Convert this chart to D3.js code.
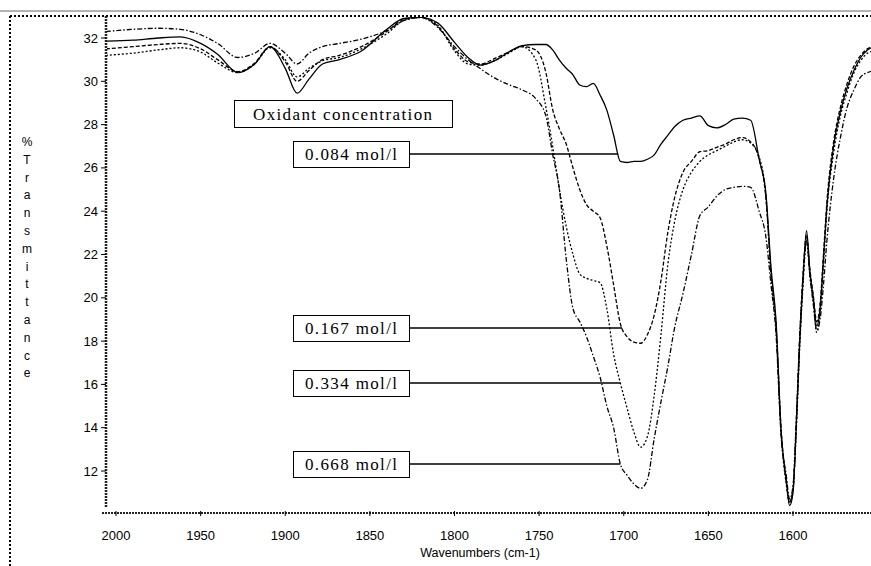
<!DOCTYPE html>
<html>
<head>
<meta charset="utf-8">
<script src="https://cdn.jsdelivr.net/npm/d3@7"></script>
<style>
  body { margin: 0; background: #fff; }
  svg { display: block; }
</style>
</head>
<body>
<div id="chart"></div>
<script>
// wavenumber grid (cm-1) shared by all four spectra
var wavenumbers = [2006,1990,1975,1962,1950,1940,1928,1918,1909,1900,
  1893,1886,1878,1868,1855,1840,1830,1820,1810,1800,
  1792,1785,1775,1768,1760,1752,1746,1742,1738,1734,
  1730,1726,1722,1718,1714,1710,1706,1702,1698,1694,
  1690,1686,1682,1678,1674,1670,1665,1660,1655,1650,
  1645,1640,1635,1630,1625,1620,1616,1613,1610,1607,
  1604,1602,1600,1598,1596,1594,1592,1590,1588,1586,
  1584,1582,1580,1576,1572,1568,1564,1560,1556,1552];

// %T for each oxidant concentration
var t084 = [31.85,31.9,32.0,32.05,31.75,31.25,30.4,30.8,31.6,30.6,
  29.45,30.1,30.8,31.0,31.4,32.4,32.9,32.95,32.7,31.8,
  31.1,30.75,31.0,31.35,31.65,31.7,31.7,31.45,30.98,30.6,
  30.3,29.83,29.75,29.9,29.37,28.67,27.52,26.3,26.25,26.3,
  26.3,26.4,26.6,27.1,27.5,27.9,28.2,28.3,28.4,27.95,
  27.85,28.0,28.25,28.3,28.2,26.4,24.8,21.4,18.9,13.8,
  11.6,10.4,11.0,14.2,18.0,21.0,23.1,21.2,20.0,18.7,
  19.5,21.8,24.2,27.0,28.6,29.7,30.5,31.1,31.45,31.6];

var t167 = [31.5,31.6,31.7,31.75,31.5,31.0,30.45,30.85,31.6,30.9,
  30.0,30.5,31.0,31.2,31.6,32.3,32.85,32.95,32.55,31.5,
  30.9,30.8,31.1,31.35,31.6,31.45,30.4,28.7,27.8,27.1,
  26.0,25.0,24.3,24.0,23.7,22.4,20.6,18.8,18.2,17.95,
  17.9,18.3,19.2,20.8,23.0,24.6,25.8,26.3,26.75,26.8,
  26.95,27.1,27.3,27.4,27.2,26.4,24.6,21.2,18.7,13.9,
  11.5,10.6,11.1,14.3,18.2,21.2,22.9,21.3,20.1,18.9,
  19.7,22.0,24.4,27.2,28.8,29.9,30.7,31.2,31.5,31.6];

var t334 = [31.2,31.3,31.45,31.55,31.35,30.85,30.4,30.8,31.55,31.0,
  30.2,30.6,30.95,31.1,31.5,32.2,32.8,32.95,32.6,31.4,
  30.8,30.75,31.0,31.3,31.6,31.0,28.8,27.0,25.0,23.3,
  22.0,21.1,20.9,20.8,20.7,19.5,17.4,16.06,14.9,13.8,
  13.1,13.6,15.5,18.3,21.5,23.5,25.0,25.8,26.3,26.6,
  26.8,27.0,27.2,27.3,27.15,26.5,24.7,21.0,18.5,13.7,
  11.4,10.5,11.2,14.0,17.8,20.7,22.7,21.0,19.8,18.4,
  19.3,21.5,24.0,26.7,28.4,29.5,30.4,30.95,31.3,31.4];

var t668 = [32.3,32.4,32.45,32.4,32.15,31.75,31.1,31.3,31.75,31.3,
  30.8,31.3,31.6,31.75,31.95,32.35,32.8,32.95,32.5,31.6,
  31.0,30.6,30.1,29.85,29.6,29.2,28.4,26.64,25.0,21.8,
  19.5,18.9,18.2,17.3,16.34,15.0,14.0,12.32,11.8,11.4,
  11.2,11.6,13.5,15.2,16.8,18.6,20.2,22.0,23.8,24.2,
  24.7,25.0,25.1,25.15,25.1,24.0,22.8,20.6,18.3,13.6,
  11.8,10.7,11.3,14.5,18.3,21.0,22.6,21.0,19.7,18.5,
  19.0,20.6,22.6,25.5,27.4,28.8,29.6,30.2,30.4,30.5];

var yTicks = [12,14,16,18,20,22,24,26,28,30,32];
var xTicks = [2000,1950,1900,1850,1800,1750,1700,1650,1600];

// label boxes: text, and where the leader line touches its spectrum
var labelTexts = ["0.084 mol/l","0.167 mol/l","0.334 mol/l","0.668 mol/l"];
var labelWn = [1703.3,1701,1702,1702];
var labelT = [26.64,18.6,16.06,12.32];

var width = 871, height = 566;
var plotLeft = 106, plotTop = 16, plotBottom = 507;

var svg = d3.select("#chart").append("svg")
  .attr("width", width)
  .attr("height", height);

var x = d3.scaleLinear().domain([2000, 1600]).range([116, 793]);
var y = d3.scaleLinear().domain([32, 12]).range([38, 471]);

// outer frame
svg.append("line").attr("x1", 0).attr("x2", width).attr("y1", 11).attr("y2", 11)
  .attr("stroke", "#666").attr("stroke-width", 1);
svg.append("line").attr("x1", 10).attr("x2", width).attr("y1", plotTop).attr("y2", plotTop)
  .attr("stroke", "#000").attr("stroke-width", 2).attr("stroke-dasharray", "2,2");
svg.append("line").attr("x1", 10).attr("x2", 10).attr("y1", plotTop).attr("y2", height)
  .attr("stroke", "#000").attr("stroke-width", 2).attr("stroke-dasharray", "2,2");

// axes
svg.append("line").attr("x1", plotLeft).attr("x2", plotLeft).attr("y1", plotTop).attr("y2", plotBottom)
  .attr("stroke", "#222").attr("stroke-width", 2.5).attr("stroke-dasharray", "2,1");
svg.append("line").attr("x1", 102).attr("x2", width).attr("y1", 513).attr("y2", 513)
  .attr("stroke", "#222").attr("stroke-width", 2).attr("stroke-dasharray", "2,1");

var yAxis = svg.append("g");
yAxis.selectAll("line").data(yTicks).enter().append("line")
  .attr("x1", 101).attr("x2", plotLeft)
  .attr("y1", function(d) { return y(d); }).attr("y2", function(d) { return y(d); })
  .attr("stroke", "#000");
yAxis.selectAll("text").data(yTicks).enter().append("text")
  .attr("x", 98).attr("y", function(d) { return y(d); })
  .attr("dy", "0.35em")
  .attr("text-anchor", "end")
  .attr("font-family", "Liberation Sans, Arial, sans-serif")
  .attr("font-size", 13)
  .text(function(d) { return d; });

var xAxis = svg.append("g");
xAxis.selectAll("line").data(xTicks).enter().append("line")
  .attr("x1", function(d) { return x(d); }).attr("x2", function(d) { return x(d); })
  .attr("y1", 511).attr("y2", 516)
  .attr("stroke", "#000");
xAxis.selectAll("text").data(xTicks).enter().append("text")
  .attr("x", function(d) { return x(d); }).attr("y", 535)
  .attr("dy", "0.35em")
  .attr("text-anchor", "middle")
  .attr("font-family", "Liberation Sans, Arial, sans-serif")
  .attr("font-size", 13)
  .text(function(d) { return d; });

svg.append("text")
  .attr("x", 480).attr("y", 557)
  .attr("text-anchor", "middle")
  .attr("font-family", "Liberation Sans, Arial, sans-serif")
  .attr("font-size", 12.5)
  .text("Wavenumbers (cm-1)");

// vertical y label, one letter per row
var yLabel = "%Transmittance".split("");
svg.append("g").selectAll("text").data(yLabel).enter().append("text")
  .attr("x", 27).attr("y", function(d, i) { return 146 + i * 17.8; })
  .attr("text-anchor", "middle")
  .attr("font-family", "Liberation Sans, Arial, sans-serif")
  .attr("font-size", 12)
  .text(function(d) { return d; });

// spectra
svg.append("clipPath").attr("id", "plotClip")
  .append("rect").attr("x", plotLeft + 1).attr("y", plotTop + 1)
  .attr("width", width - plotLeft).attr("height", plotBottom - plotTop);

var series = [
  { values: t084, dash: null },
  { values: t167, dash: "4,2" },
  { values: t334, dash: "2,2" },
  { values: t668, dash: "5,2,1.5,2" }
];

var line = d3.line()
  .x(function(d) { return x(d[0]); })
  .y(function(d) { return y(d[1]); })
  .curve(d3.curveMonotoneX);

var plot = svg.append("g").attr("clip-path", "url(#plotClip)");
plot.selectAll("path").data(series).enter().append("path")
  .attr("d", function(s) { return line(d3.zip(wavenumbers, s.values)); })
  .attr("fill", "none")
  .attr("stroke", "#000")
  .attr("stroke-width", 1.3)
  .attr("stroke-dasharray", function(s) { return s.dash; });

// title box
var serif = "Liberation Serif, Times New Roman, serif";
svg.append("rect").attr("x", 234.5).attr("y", 100.5).attr("width", 218).attr("height", 27)
  .attr("fill", "#fff").attr("stroke", "#000");
svg.append("text").attr("x", 253).attr("y", 114)
  .attr("dy", "0.35em")
  .attr("font-family", serif).attr("font-size", 17)
  .attr("textLength", 179).attr("lengthAdjust", "spacing")
  .text("Oxidant concentration");

// concentration labels with leader lines
var labels = svg.append("g").selectAll("g").data(labelTexts).enter().append("g");
labels.append("line")
  .attr("x1", 409).attr("x2", function(d, i) { return x(labelWn[i]); })
  .attr("y1", function(d, i) { return y(labelT[i]); })
  .attr("y2", function(d, i) { return y(labelT[i]); })
  .attr("stroke", "#000").attr("stroke-width", 1.5);
labels.append("rect")
  .attr("x", 293.5).attr("y", function(d, i) { return Math.round(y(labelT[i])) - 12.5; })
  .attr("width", 116).attr("height", 26)
  .attr("fill", "#fff").attr("stroke", "#000");
labels.append("text")
  .attr("x", 305).attr("y", function(d, i) { return Math.round(y(labelT[i])) + 0.5; })
  .attr("dy", "0.35em")
  .attr("font-family", serif).attr("font-size", 17)
  .attr("textLength", 92).attr("lengthAdjust", "spacing")
  .text(function(d) { return d; });
</script>
</body>
</html>
